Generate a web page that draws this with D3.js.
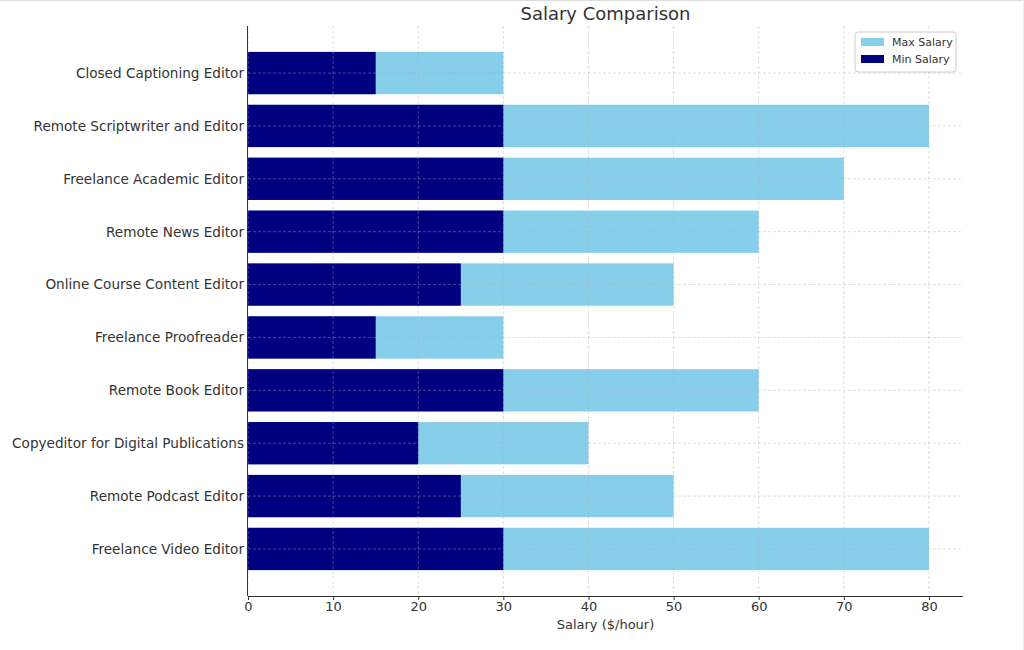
<!DOCTYPE html>
<html><head><meta charset="utf-8">
<script src="https://cdn.jsdelivr.net/npm/d3@7"></script>
<style>
body{margin:0;background:#fff;}
svg{display:block;font-family:"DejaVu Sans",sans-serif;}
</style></head>
<body>
<svg id="c" width="1024" height="650"></svg>
<script>
const categories = ["Freelance Video Editor","Remote Podcast Editor","Copyeditor for Digital Publications","Remote Book Editor","Freelance Proofreader","Online Course Content Editor","Remote News Editor","Freelance Academic Editor","Remote Scriptwriter and Editor","Closed Captioning Editor"];
const maxSalary = [80,50,40,60,30,50,60,70,80,30];
const minSalary = [30,25,20,30,15,25,30,30,30,15];
const xTicks = [0,10,20,30,40,50,60,70,80];

const svg = d3.select("#c");
const L=248, R=963, T=26, B=596;
svg.append("line").attr("x1",0).attr("x2",1024).attr("y1",0.5).attr("y2",0.5).attr("stroke","#ddd");
svg.append("line").attr("x1",1023.5).attr("x2",1023.5).attr("y1",0).attr("y2",650).attr("stroke","#eee");

const x = d3.scaleLinear().domain([0,84]).range([L,R]);
const y = d3.scaleLinear().domain([-0.89,9.89]).range([B,T]);
const bh = y(0)-y(0.8);

const g = svg.append("g");
g.selectAll(".mx").data(categories).join("rect")
 .attr("x",x(0)).attr("y",(d,i)=>y(i)-bh/2).attr("height",bh)
 .attr("width",(d,i)=>x(maxSalary[i])-x(0)).attr("fill","#87ceeb");
g.selectAll(".mn").data(categories).join("rect")
 .attr("x",x(0)).attr("y",(d,i)=>y(i)-bh/2).attr("height",bh)
 .attr("width",(d,i)=>x(minSalary[i])-x(0)).attr("fill","#000080");

const grid = svg.append("g").attr("stroke","#b0b0b0").attr("stroke-opacity",0.5).attr("stroke-dasharray","3,2").attr("stroke-width",0.8);
grid.selectAll(".gx").data(xTicks).join("line")
 .attr("x1",d=>x(d)).attr("x2",d=>x(d)).attr("y1",T).attr("y2",B);
grid.selectAll(".gy").data(categories).join("line")
 .attr("x1",L).attr("x2",R).attr("y1",(d,i)=>y(i)).attr("y2",(d,i)=>y(i));

const xa = svg.append("g").attr("transform",`translate(0,${B})`)
 .call(d3.axisBottom(x).tickValues(xTicks).tickSize(4).tickPadding(2).tickSizeOuter(0));
xa.select(".domain").attr("stroke","#333").attr("d",`M${L},0.5H${R}`);
xa.selectAll(".tick line").attr("stroke","#333");
xa.selectAll("text").attr("font-size","13px").attr("fill","#333").attr("font-family","DejaVu Sans");

const ya = svg.append("g").attr("transform",`translate(${L},0)`)
 .call(d3.axisLeft(y).tickValues(d3.range(categories.length)).tickFormat(i=>categories[i]).tickSize(0).tickPadding(4));
ya.select(".domain").attr("stroke","#333").attr("d",`M-0.5,${T}V${B}`);
ya.selectAll("text").attr("font-size","13.6px").attr("fill","#333").attr("font-family","DejaVu Sans");

svg.append("text").attr("x",(L+R)/2).attr("y",629).attr("text-anchor","middle")
 .attr("font-size","13px").attr("fill","#333").text("Salary ($/hour)");
svg.append("text").attr("x",(L+R)/2).attr("y",20).attr("text-anchor","middle")
 .attr("font-size","18px").attr("fill","#333").text("Salary Comparison");

const lg = svg.append("g").attr("transform","translate(855,32)");
lg.append("rect").attr("width",101).attr("height",40).attr("rx",3).attr("fill","#fff").attr("fill-opacity",0.8).attr("stroke","#ccc");
const items=[["Max Salary","#87ceeb"],["Min Salary","#000080"]];
items.forEach((it,i)=>{
  lg.append("rect").attr("x",6).attr("y",6+i*17).attr("width",23).attr("height",8).attr("fill",it[1]);
  lg.append("text").attr("x",37).attr("y",14+i*17).attr("font-size","11px").attr("fill","#333").text(it[0]);
});
</script>
</body></html>
